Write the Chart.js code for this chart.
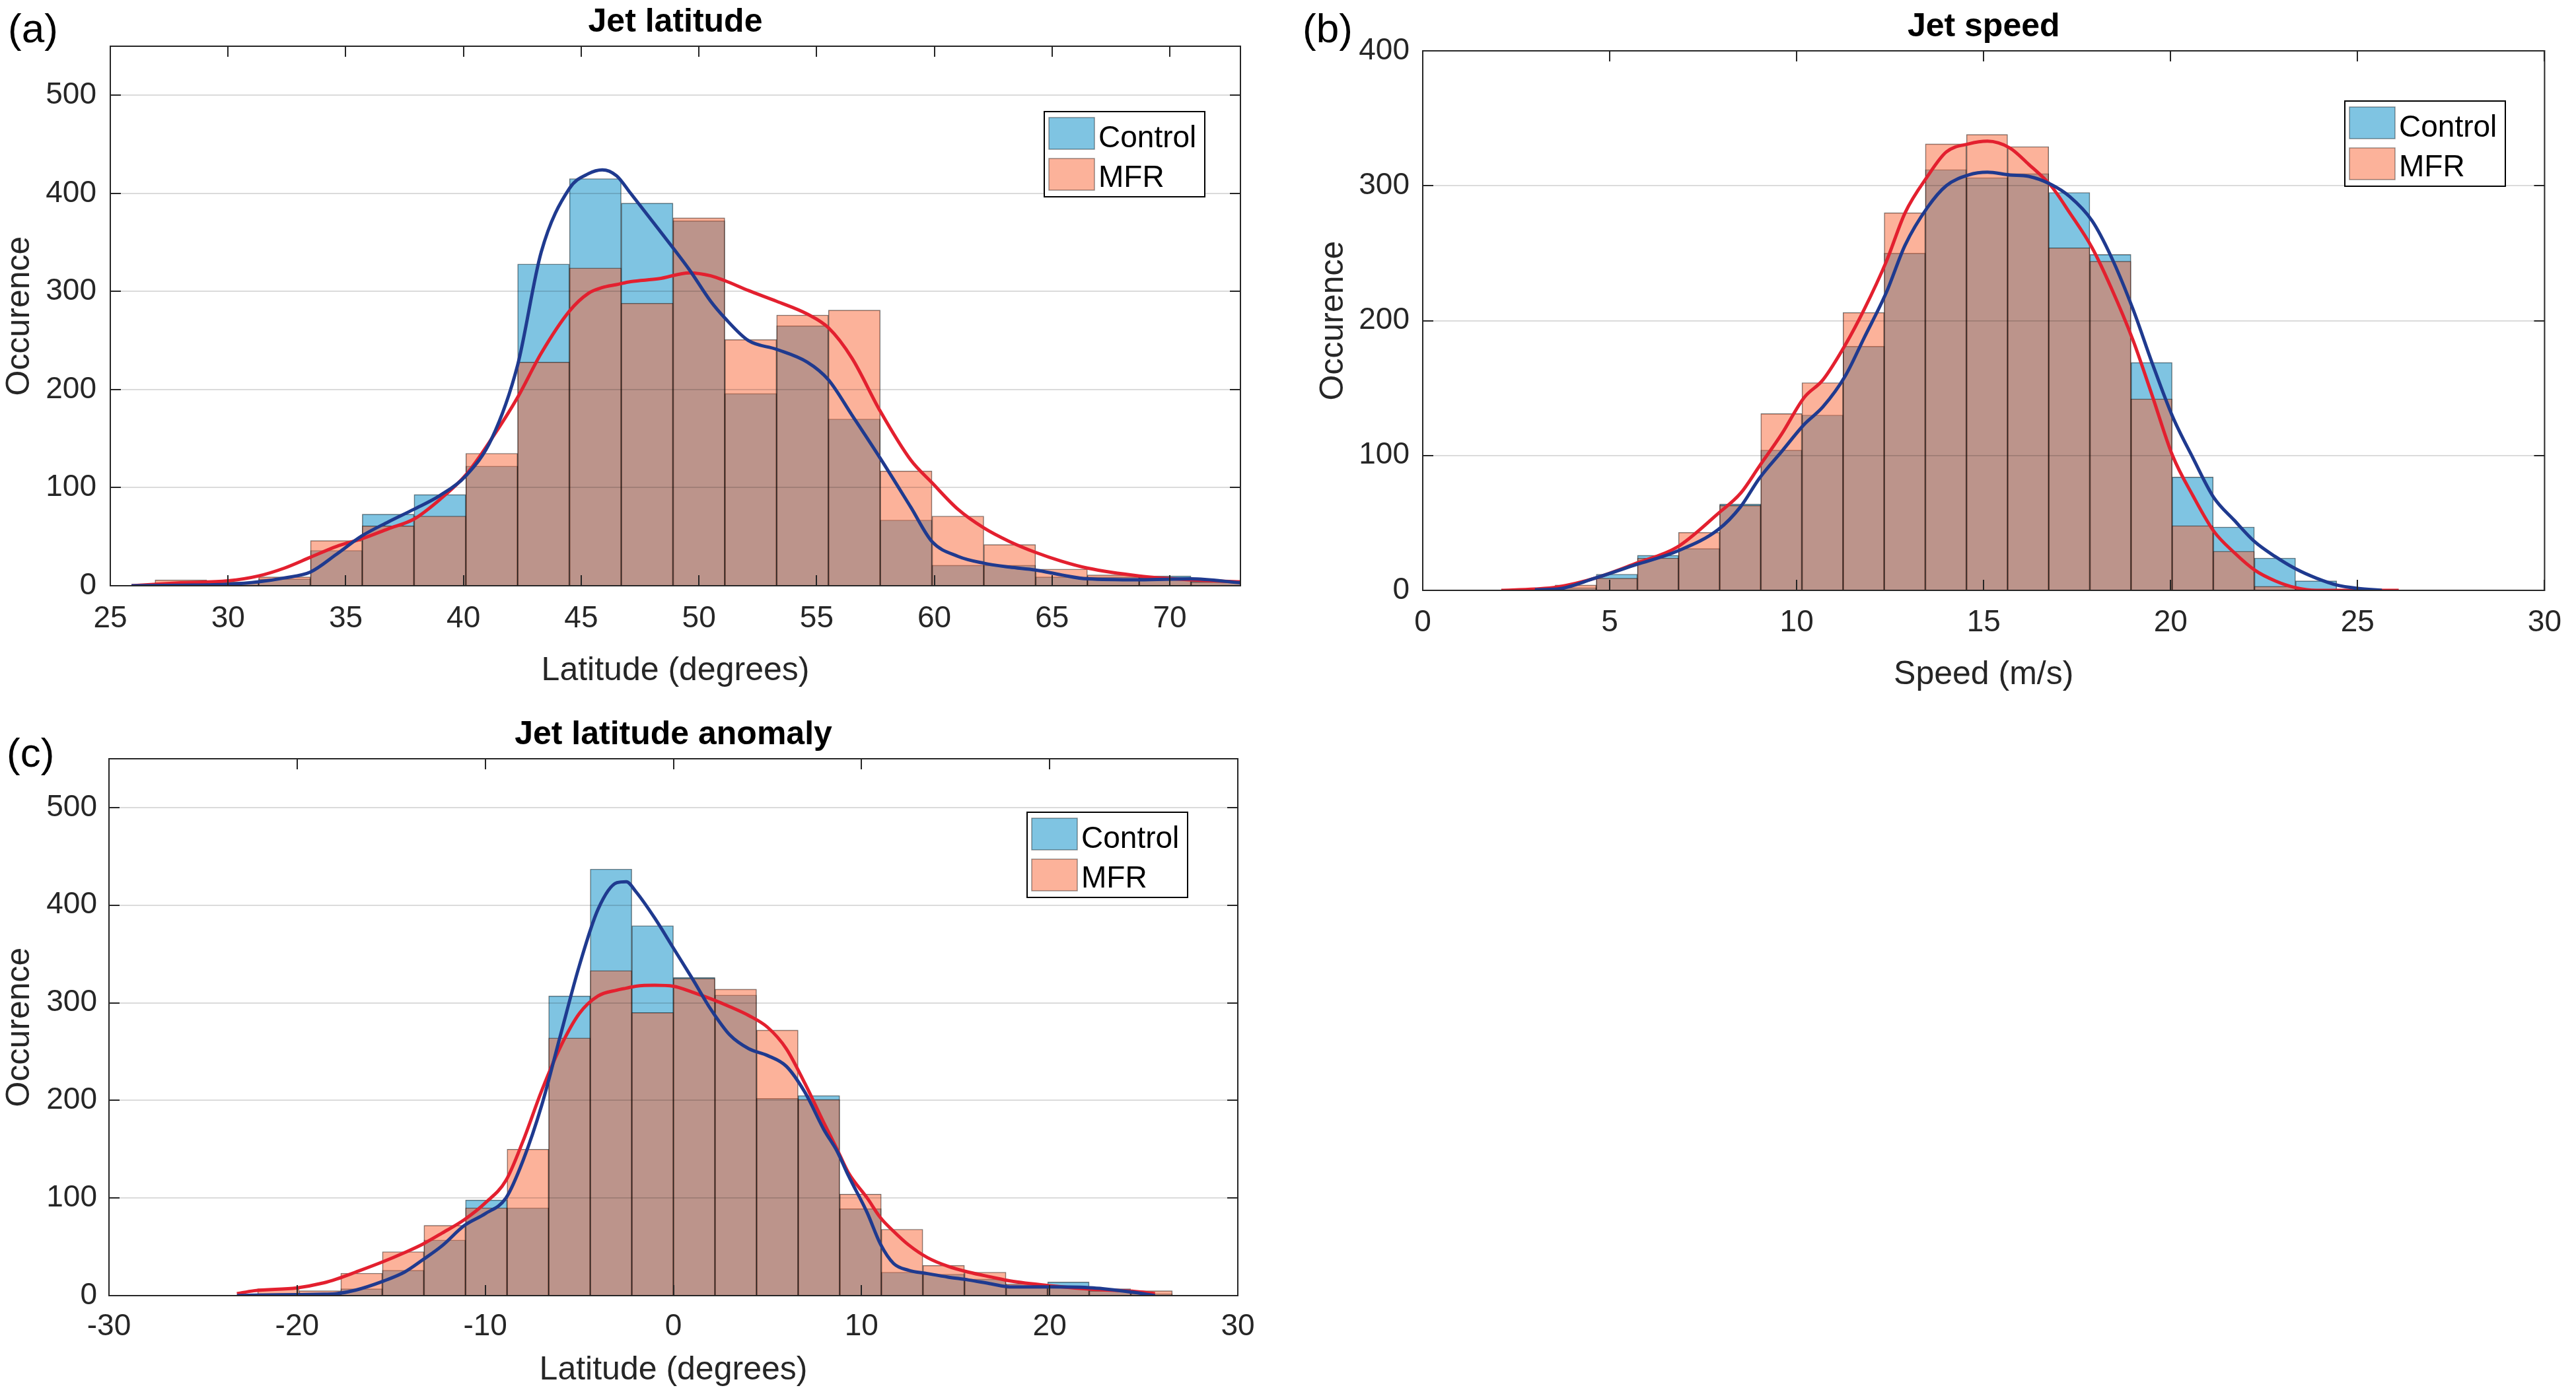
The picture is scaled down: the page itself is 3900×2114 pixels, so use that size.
<!DOCTYPE html>
<html>
<head>
<meta charset="utf-8">
<title>Jet latitude / speed histograms</title>
<script src="https://cdn.jsdelivr.net/npm/chart.js@4.4.1/dist/chart.umd.min.js"></script>
<style>
  html, body { margin: 0; padding: 0; background: #fff; }
  #page { position: relative; width: 3900px; height: 2114px; overflow: hidden; background: #fff; }
  canvas { position: absolute; }
</style>
</head>
<body>
<div id="page">
  <canvas id="panelA" width="1950" height="1060" style="left:0;top:0;width:1950px;height:1060px"></canvas>
  <canvas id="panelB" width="1950" height="1060" style="left:1950px;top:0;width:1950px;height:1060px"></canvas>
  <canvas id="panelC" width="1950" height="1054" style="left:0;top:1060px;width:1950px;height:1054px"></canvas>
</div>
<script>
// ======================= DATA =============================
const seriesNames = ["Control", "MFR"];
const countTicks = [0, 100, 200, 300, 400, 500];
const countTicksSpeed = [0, 100, 200, 300, 400];

// (a) jet latitude
const latTicks = [25, 30, 35, 40, 45, 50, 55, 60, 65, 70];
const latBins = [28.0, 30.2, 32.4, 34.6, 36.8, 39.0, 41.2, 43.4, 45.6, 47.8, 50.0, 52.2, 54.4, 56.6, 58.8, 61.0, 63.2, 65.4, 67.6, 69.8, 72.0];
const latControl = [3, 3, 7, 36, 73, 93, 122, 328, 415, 390, 372, 196, 265, 170, 67, 21, 21, 9, 9, 10, 5];
const latMFR = [6, 4, 9, 46, 61, 71, 135, 228, 324, 288, 375, 251, 276, 281, 117, 71, 42, 17, 11, 8, 4];
const latCurveX = [25.9, 28.0, 30.0, 31.3, 32.4, 33.5, 34.6, 35.7, 36.8, 37.9, 39.0, 40.1, 41.2, 42.3, 43.3, 44.5, 45.3, 45.9, 46.5, 47.1, 48.3, 49.6, 50.5, 51.1, 52.1, 53.3, 54.6, 55.5, 56.5, 57.7, 59.0, 59.9, 61.0, 62.1, 63.2, 64.3, 65.4, 66.5, 68.7, 70.9, 73.0];
const latCurveControl = [0, 0.5, 1.5, 4, 8, 14, 32, 51, 65, 78, 92, 112, 150, 225, 340, 405, 420, 424, 418, 400, 363, 322, 290, 273, 250, 241, 228, 210, 174, 130, 80, 45, 30, 23, 19, 16, 11, 7, 6, 7, 3];
const latCurveMFR = [0, 3, 5, 10, 18, 29, 40, 48, 58, 68, 88, 113, 150, 192, 237, 280, 298, 304, 307, 310, 313, 319, 316, 311, 301, 290, 277, 263, 232, 178, 128, 105, 78, 59, 45, 34, 25, 18, 10, 6, 4];

// (b) jet speed
const speedTicks = [0, 5, 10, 15, 20, 25, 30];
const speedBins = [2.99, 4.09, 5.19, 6.29, 7.39, 8.49, 9.59, 10.69, 11.79, 12.89, 13.99, 15.09, 16.19, 17.29, 18.39, 19.49, 20.59, 21.69, 22.79, 23.89, 24.99, 26.09];
const speedControl = [1, 2, 12, 26, 31, 64, 104, 130, 181, 250, 312, 306, 309, 295, 249, 169, 84, 47, 24, 7, 1, 0];
const speedMFR = [1, 4, 9, 24, 43, 63, 131, 154, 206, 280, 331, 338, 329, 254, 244, 142, 48, 29, 3, 1, 0, 0];
const speedCurveX = [2.1, 3.0, 3.6, 4.6, 5.7, 6.8, 7.9, 8.5, 9.0, 9.6, 10.2, 10.7, 11.3, 11.8, 12.4, 12.9, 13.5, 14.0, 14.6, 15.1, 15.7, 16.2, 16.8, 17.3, 17.9, 18.4, 19.0, 19.5, 20.05, 20.6, 21.15, 21.7, 22.25, 22.8, 23.34, 23.9, 24.44, 25.0, 25.65, 26.1];
const speedCurveControl = [null, 0.5, 1, 9, 19, 29, 45, 62, 83, 103, 123, 136, 159, 187, 221, 256, 284, 300, 308, 310, 308, 307, 301, 292, 274, 248, 208, 169, 129, 98, 69, 52, 36, 25, 16, 9, 4, 1.5, 0, null];
const speedCurveMFR = [0, 1, 2.5, 9, 20, 32, 57, 72, 92, 116, 143, 156, 182, 208, 244, 280, 307, 325, 331, 333, 328, 316, 300, 280, 254, 225, 185, 145, 100, 70, 44, 28, 15, 7, 2, 0, 0, 0, 0, 0];

// (c) jet latitude anomaly
const anomTicks = [-30, -20, -10, 0, 10, 20, 30];
const anomBins = [-20.995, -18.785, -16.575, -14.365, -12.155, -9.945, -7.735, -5.525, -3.315, -1.105, 1.105, 3.315, 5.525, 7.735, 9.945, 12.155, 14.365, 16.575, 18.785, 20.995, 23.205, 25.415];
const anomControl = [2, 2, 7, 26, 57, 98, 90, 307, 437, 379, 326, 308, 202, 205, 89, 24, 22, 17, 8, 14, 7, 2];
const anomMFR = [7, 5, 23, 45, 72, 90, 150, 264, 333, 290, 325, 314, 272, 201, 104, 68, 31, 24, 12, 9, 5, 5];
const anomCurveX = [-23.2, -22.3, -20.0, -18.6, -17.9, -16.9, -15.4, -14.3, -13.3, -12.3, -11.1, -10.0, -8.9, -8.0, -7.0, -6.0, -5.0, -4.0, -3.0, -2.5, -2.0, -1.0, 0.0, 1.0, 2.0, 3.0, 4.0, 5.0, 6.0, 7.0, 8.0, 8.7, 9.3, 10.3, 11.0, 11.7, 12.5, 13.5, 14.6, 15.7, 16.9, 17.9, 20.1, 22.3, 24.4, 25.6];
const anomCurveControl = [0, 0.5, 1, 1.5, 2, 5.6, 15, 24, 37, 51, 72, 84, 100, 138, 195, 267, 338, 396, 423, 424, 414, 387, 356, 325, 293, 267, 253, 246, 235, 208, 170, 148, 123, 85, 53, 33, 26, 22.6, 19, 16, 12, 9, 9, 8, 3.5, 0];
const anomCurveMFR = [2, 5, 8, 13, 17, 24, 35, 44, 53, 64, 78, 95, 118, 158, 210, 255, 289, 307, 313, 315, 317, 318, 317, 311, 304, 296, 287, 275, 253, 217, 177, 150, 126, 100, 80, 66, 52, 39, 30, 24, 19, 15, 10, 6.5, 4.5, 2];

// ======================= STYLE =============================
const FONT = "'Liberation Sans', Arial, Helvetica, sans-serif";
const INK = "#262626";
const BAR_BLUE = "rgba(0, 137, 197, 0.5)";
const BAR_ORANGE = "rgba(249, 101, 53, 0.5)";
const LINE_BLUE = "#1f3a8f";
const LINE_RED = "#e3202f";

// ======================= FRAME / LEGEND PLUGIN ==============
const matlabFrame = {
    id: "matlabFrame",
    beforeDatasetsDraw(chart) { chart.$gridDone = false; },
    beforeDatasetDraw(chart, args) {
        // grid goes over the bars but under the curves
        if (args.meta.type !== "line" || chart.$gridDone) return;
        chart.$gridDone = true;
        const {ctx, chartArea: a, scales: {y}} = chart;
        ctx.save();
        ctx.strokeStyle = "rgba(0,0,0,0.14)";
        ctx.lineWidth = 2;
        y.ticks.forEach(t => {
            const py = Math.round(y.getPixelForValue(t.value));
            if (py >= a.bottom - 2 || py <= a.top + 2) return;
            ctx.beginPath();
            ctx.moveTo(a.left + 16, py);
            ctx.lineTo(a.right - 16, py);
            ctx.stroke();
        });
        ctx.restore();
    },
    afterDraw(chart) {
        const o = chart.options.plugins.matlabFrame;
        const {ctx, chartArea: a, scales: {x, y}} = chart;
        ctx.save();

        // axes box + inward ticks
        ctx.strokeStyle = INK;
        ctx.lineWidth = 2;
        ctx.strokeRect(a.left, a.top, a.right - a.left, a.bottom - a.top);
        ctx.beginPath();
        x.ticks.forEach(t => {
            const px = Math.round(x.getPixelForValue(t.value));
            ctx.moveTo(px, a.bottom); ctx.lineTo(px, a.bottom - 16);
            ctx.moveTo(px, a.top); ctx.lineTo(px, a.top + 16);
        });
        y.ticks.forEach(t => {
            const py = Math.round(y.getPixelForValue(t.value));
            ctx.moveTo(a.left, py); ctx.lineTo(a.left + 16, py);
            ctx.moveTo(a.right, py); ctx.lineTo(a.right - 16, py);
        });
        ctx.stroke();

        // title + panel letter
        ctx.fillStyle = "#000";
        ctx.textAlign = "center";
        ctx.textBaseline = "alphabetic";
        ctx.font = "bold 50px " + FONT;
        ctx.fillText(o.title, (a.left + a.right) / 2, a.top - 22);
        ctx.textAlign = "left";
        ctx.textBaseline = "middle";
        ctx.font = "62px " + FONT;
        ctx.fillText(o.letter, o.letterX, o.letterY);

        // legend box, entries in series order
        const lx = o.legendX, ly = o.legendY;
        ctx.fillStyle = "#fff";
        ctx.fillRect(lx, ly, 243, 129);
        ctx.strokeStyle = "#000";
        ctx.lineWidth = 2;
        ctx.strokeRect(lx, ly, 243, 129);
        seriesNames.forEach((name, i) => {
            const d = chart.data.datasets.find(ds => ds.type === "bar" && ds.label === name);
            const sy = ly + 9 + i * 62;
            ctx.fillStyle = d.backgroundColor;
            ctx.fillRect(lx + 7, sy, 69, 48);
            ctx.strokeStyle = "rgba(0,0,0,0.4)";
            ctx.lineWidth = 1.5;
            ctx.strokeRect(lx + 7, sy, 69, 48);
            ctx.fillStyle = "#000";
            ctx.font = "46px " + FONT;
            ctx.textAlign = "left";
            ctx.textBaseline = "alphabetic";
            ctx.fillText(d.label, lx + 82, ly + 54 + i * 60);
        });
        ctx.restore();
    }
};

// ======================= PANEL BUILDER =====================
function pts(xs, ys) {
    return xs.map((v, i) => ({x: v, y: ys[i]}));
}

function histogramPanel(id, p) {
    const canvas = document.getElementById(id);
    const W = canvas.width, H = canvas.height;
    return new Chart(canvas, {
        type: "bar",
        data: {
            datasets: [
                {type: "bar", label: seriesNames[0], data: pts(p.bins, p.control),
                 backgroundColor: BAR_BLUE, borderColor: "rgba(0,0,0,0.55)", borderWidth: 1,
                 barPercentage: 1, categoryPercentage: 1, grouped: false, order: 2},
                {type: "bar", label: seriesNames[1], data: pts(p.bins, p.mfr),
                 backgroundColor: BAR_ORANGE, borderColor: "rgba(0,0,0,0.55)", borderWidth: 1,
                 barPercentage: 1, categoryPercentage: 1, grouped: false, order: 1},
                {type: "line", label: seriesNames[0] + " fit", data: pts(p.curveX, p.curveControl),
                 borderColor: LINE_BLUE, borderWidth: 5, pointRadius: 0, tension: 0.4,
                 cubicInterpolationMode: "monotone", order: 0},
                {type: "line", label: seriesNames[1] + " fit", data: pts(p.curveX, p.curveMFR),
                 borderColor: LINE_RED, borderWidth: 5, pointRadius: 0, tension: 0.4,
                 cubicInterpolationMode: "monotone", order: 0}
            ]
        },
        options: {
            responsive: false,
            animation: false,
            devicePixelRatio: 1,
            events: [],
            layout: {padding: {left: 0, top: p.top, right: W - p.right, bottom: 0}},
            plugins: {
                legend: {display: false},
                tooltip: {enabled: false},
                title: {display: false},
                matlabFrame: {title: p.title, letter: p.letter, letterX: p.letterX, letterY: p.letterY,
                              legendX: p.legendX, legendY: p.legendY}
            },
            scales: {
                x: {
                    type: "linear", min: p.xMin, max: p.xMax, offset: false,
                    afterBuildTicks: s => { s.ticks = p.xTicks.map(v => ({value: v})); },
                    afterFit: s => { s.height = H - p.bottom; },
                    grid: {display: false, drawTicks: false},
                    border: {display: false},
                    ticks: {font: {family: FONT, size: 46}, color: INK, padding: p.xTickPad,
                            maxRotation: 0, autoSkip: false},
                    title: {display: true, text: p.xLabel, color: INK,
                            font: {family: FONT, size: 50}, padding: {top: 0, bottom: p.xTitlePad}}
                },
                y: {
                    type: "linear", min: 0, max: p.yMax,
                    afterBuildTicks: s => { s.ticks = p.yTicks.map(v => ({value: v})); },
                    afterFit: s => { s.width = p.left; },
                    grid: {display: false, drawTicks: false},
                    border: {display: false},
                    ticks: {font: {family: FONT, size: 46}, color: INK, padding: p.yTickPad},
                    title: {display: true, text: "Occurence", color: INK,
                            font: {family: FONT, size: 50}, padding: {top: p.yTitlePad, bottom: 0}}
                }
            }
        },
        plugins: [matlabFrame]
    });
}

// ======================= PANELS ============================
histogramPanel("panelA", {
    title: "Jet latitude", letter: "(a)", letterX: 12, letterY: 47,
    bins: latBins, control: latControl, mfr: latMFR,
    curveX: latCurveX, curveControl: latCurveControl, curveMFR: latCurveMFR,
    xMin: 25, xMax: 73, xTicks: latTicks, xLabel: "Latitude (degrees)",
    yMax: 550, yTicks: countTicks,
    left: 167, right: 1878, top: 70, bottom: 887,
    xTickPad: 23, xTitlePad: 14, yTickPad: 21, yTitlePad: 0,
    legendX: 1581, legendY: 169
});

histogramPanel("panelB", {
    title: "Jet speed", letter: "(b)", letterX: 22, letterY: 47,
    bins: speedBins, control: speedControl, mfr: speedMFR,
    curveX: speedCurveX, curveControl: speedCurveControl, curveMFR: speedCurveMFR,
    xMin: 0, xMax: 30, xTicks: speedTicks, xLabel: "Speed (m/s)",
    yMax: 400, yTicks: countTicksSpeed,
    left: 204, right: 1915, top: 77, bottom: 894,
    xTickPad: 22, xTitlePad: 8, yTickPad: 20, yTitlePad: 39,
    legendX: 1600, legendY: 153
});

histogramPanel("panelC", {
    title: "Jet latitude anomaly", letter: "(c)", letterX: 10, letterY: 84,
    bins: anomBins, control: anomControl, mfr: anomMFR,
    curveX: anomCurveX, curveControl: anomCurveControl, curveMFR: anomCurveMFR,
    xMin: -30, xMax: 30, xTicks: anomTicks, xLabel: "Latitude (degrees)",
    yMax: 550, yTicks: countTicks,
    left: 165, right: 1874, top: 89, bottom: 902,
    xTickPad: 20, xTitlePad: 9, yTickPad: 18, yTitlePad: 0,
    legendX: 1555, legendY: 170
});
</script>
</body>
</html>
